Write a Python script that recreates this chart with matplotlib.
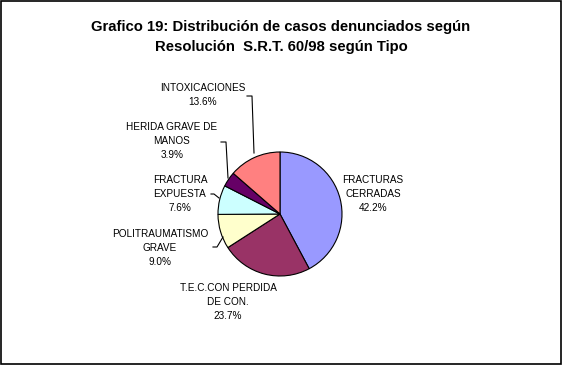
import matplotlib.pyplot as plt
from matplotlib.patches import Rectangle

# Data (clockwise from 12 o'clock)
categories = ["FRACTURAS\nCERRADAS", "T.E.C.CON PERDIDA\nDE CON.", "POLITRAUMATISMO\nGRAVE",
              "FRACTURA\nEXPUESTA", "HERIDA GRAVE DE\nMANOS", "INTOXICACIONES"]
shares = [42.2, 23.7, 9.0, 7.6, 3.9, 13.6]
colors = ["#9999FF", "#993366", "#FFFFCC", "#CCFFFF", "#660066", "#FF8080"]

# label text centres (pixel coords, y from top) and leader lines
label_pos = [(373, 194), (228, 302), (160, 248), (180, 194), (172, 141), (203, 95)]
leaders = [None, None,
           [(223, 237), (217, 247), (213, 247)],
           [(219, 198), (214, 194), (211, 194)],
           [(228, 178), (226, 142), (221, 142)],
           [(254, 153), (252, 96), (247, 96)]]

plt.rcParams['font.family'] = ['Liberation Sans', 'DejaVu Sans']

W, H = 562, 365
fig = plt.figure(figsize=(W / 100, H / 100), dpi=100)
ax = fig.add_axes([0, 0, 1, 1])

ax.pie(shares, colors=colors, center=(280, H - 214), radius=62, startangle=90,
       counterclock=False, wedgeprops=dict(edgecolor='black', linewidth=0.8),
       frame=True)
ax.set_xlim(0, W)
ax.set_ylim(0, H)
ax.set_aspect('equal')
ax.axis('off')

for name, val, (x, y) in zip(categories, shares, label_pos):
    ax.text(x, H - y, f"{name}\n{val:.1f}%", ha='center', va='center',
            fontsize=7.2, linespacing=1.55)

for pts in leaders:
    if pts:
        ax.plot([p[0] for p in pts], [H - p[1] for p in pts], color='black', lw=0.8)

fig.text(0.5, 1 - 27 / H, "Grafico 19: Distribución de casos denunciados según",
         ha='center', va='center', fontsize=10.7, fontweight='bold')
fig.text(0.5, 1 - 47 / H, "Resolución  S.R.T. 60/98 según Tipo",
         ha='center', va='center', fontsize=10.7, fontweight='bold')

fig.patches.append(Rectangle((1 / W, 1 / H), 1 - 2 / W, 1 - 2 / H,
                             transform=fig.transFigure, fill=False,
                             edgecolor='black', linewidth=1.2))

fig.savefig("out.png", dpi=100, facecolor='white')
